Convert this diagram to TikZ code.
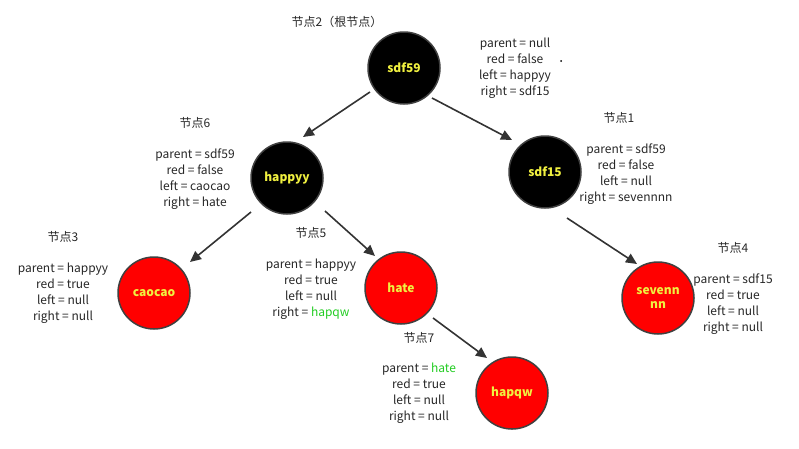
\documentclass[tikz,border=0pt]{standalone}
\usepackage{fontspec}
\setmainfont{Noto Sans CJK SC}
\usetikzlibrary{arrows.meta}
\definecolor{yel}{HTML}{F0F040}
\definecolor{grn}{HTML}{22CC22}
\begin{document}
\begin{tikzpicture}[x=1pt,y=-1pt,
  blk/.style={circle,draw=black!75,line width=1.5pt,fill=black,minimum size=72pt,inner sep=0pt,text=yel,font=\fontsize{12}{14}\selectfont\bfseries},
  rd/.style={circle,draw=black!75,line width=1.5pt,fill=red,minimum size=72pt,inner sep=0pt,text=yel,align=center,font=\fontsize{12}{14}\selectfont\bfseries},
  info/.style={align=center,font=\fontsize{12}{16}\selectfont,text=black!85,inner sep=0pt},
  lbl/.style={font=\fontsize{12}{14}\selectfont,text=black!85,inner sep=0pt},
  arr/.style={draw=black!80,line width=1.6pt,-{Triangle[length=11pt,width=10pt]}}]
\useasboundingbox (0,0) rectangle (799,448);
\node[blk] (a) at (404,68) {sdf59};
\node[blk] (b) at (287,178) {happyy};
\node[blk] (c) at (545,172) {sdf15};
\node[rd] (d) at (154,293) {caocao};
\node[rd] (e) at (401,288) {hate};
\node[rd] (f) at (658,298) {sevenn\\nn};
\node[rd] (g) at (512,393) {hapqw};
\coordinate (a1) at (370,92); \coordinate (b0) at (303,137);
\coordinate (a2) at (432,98); \coordinate (c0) at (512,140);
\coordinate (b1) at (251,212); \coordinate (d0) at (190,262);
\coordinate (b2) at (325,211); \coordinate (e0) at (375,256);
\coordinate (c1) at (567,218); \coordinate (f0) at (637,264);
\coordinate (e1) at (433,318); \coordinate (g0) at (487,358);
\draw[arr] (a1) -- (b0);
\draw[arr] (a2) -- (c0);
\draw[arr] (b1) -- (d0);
\draw[arr] (b2) -- (e0);
\draw[arr] (c1) -- (f0);
\draw[arr] (e1) -- (g0);
\node[lbl] (l2) at (337,22) {节点2（根节点）};
\node[info] (ia) at (515,68) {parent = null\\red = false\\left = happyy\\right = sdf15};
\fill[black] (561,61) circle (1pt);
\node[lbl] (l6) at (195,123) {节点6};
\node[info] (ib) at (195,179) {parent = sdf59\\red = false\\left = caocao\\right = hate};
\node[lbl] (l1) at (619,118) {节点1};
\node[info] (ic) at (626,174) {parent = sdf59\\red = false\\left = null\\right = sevennnn};
\node[lbl] (l3) at (63,237) {节点3};
\node[info] (id) at (63,293) {parent = happyy\\red = true\\left = null\\right = null};
\node[lbl] (l5) at (311,233) {节点5};
\node[info] (ie) at (311,289) {parent = happyy\\red = true\\left = null\\right = \textcolor{grn}{hapqw}};
\node[lbl] (l4) at (733,248) {节点4};
\node[info] (if) at (733,304) {parent = sdf15\\red = true\\left = null\\right = null};
\node[lbl] (l7) at (419,338) {节点7};
\node[info] (ig) at (419,393) {parent = \textcolor{grn}{hate}\\red = true\\left = null\\right = null};
\end{tikzpicture}
\end{document}
